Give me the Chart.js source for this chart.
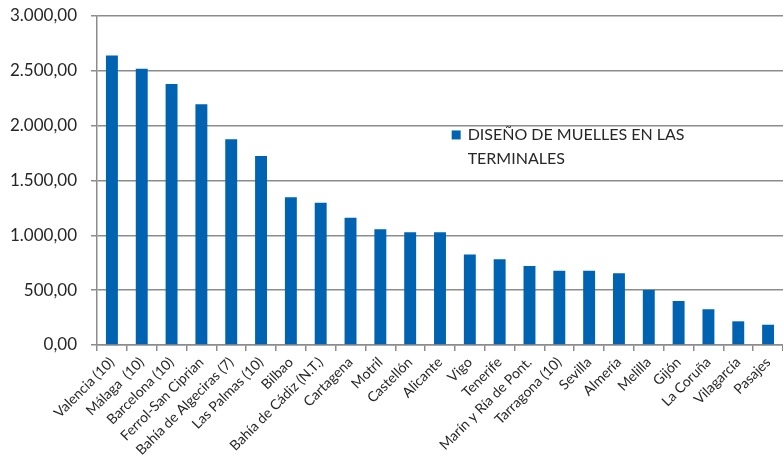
<!DOCTYPE html>
<html>
<head>
<meta charset="utf-8">
<script src="https://cdn.jsdelivr.net/npm/chart.js@4"></script>
<style>
  html, body { margin: 0; padding: 0; background: #fff; }
  #wrap { width: 783px; height: 476px; }
</style>
</head>
<body>
<div id="wrap"><canvas id="chart"></canvas></div>
<script>
// data
const ports = ['Valencia (10)', 'Málaga  (10)', 'Barcelona (10)', 'Ferrol-San Ciprian', 'Bahía de Algeciras (7)',
  'Las Palmas (10)', 'Bilbao', 'Bahía de Cádiz (N.T.)', 'Cartagena', 'Motril', 'Castellón', 'Alicante', 'Vigo',
  'Tenerife', 'Marín y Ría de Pont.', 'Tarragona (10)', 'Sevilla', 'Almería', 'Melilla', 'Gijón', 'La Coruña',
  'Vilagarcía', 'Pasajes'];
const muelles = [2640, 2520, 2380, 2195, 1877, 1724, 1348, 1298, 1160, 1055, 1027, 1027, 825,
  782, 721, 676, 676, 655, 502, 401, 326, 216, 185];
const seriesName = ['DISEÑO DE MUELLES EN LAS', 'TERMINALES'];
const yMax = 3000;
const yStep = 500;

const barColor = '#0063b1';
const gridColor = '#8c8c8c';
const textColor = '#262626';

function fmt(v) {
  const parts = v.toFixed(2).split('.');
  const ent = parts[0].replace(/\B(?=(\d{3})+(?!\d))/g, '.');
  return ent + ',' + parts[1];
}

// legend drawn inside the plot, two lines like the original
const insideLegend = {
  id: 'insideLegend',
  afterDraw(chart) {
    const ctx = chart.ctx;
    const a = chart.chartArea;
    const x = a.left + (a.right - a.left) * 0.517;
    const y = a.top + (a.bottom - a.top) * 0.36;
    ctx.save();
    ctx.fillStyle = '#ffffff';
    ctx.fillRect(x - 4, y - 7, 250, 40);
    ctx.fillStyle = barColor;
    ctx.fillRect(x, y - 4, 9, 9);
    ctx.fillStyle = textColor;
    ctx.font = '16px Lato';
    ctx.textBaseline = 'middle';
    ctx.fillText(seriesName[0], x + 16, y);
    ctx.fillText(seriesName[1], x + 16, y + 24);
    ctx.restore();
  }
};

new Chart(document.getElementById('chart'), {
  type: 'bar',
  data: {
    labels: ports,
    datasets: [{
      label: seriesName.join(' '),
      data: muelles,
      backgroundColor: barColor,
      barPercentage: 0.4,
      categoryPercentage: 1.0
    }]
  },
  options: {
    responsive: true,
    maintainAspectRatio: false,
    animation: false,
    layout: { padding: 0 },
    plugins: {
      legend: { display: false },
      tooltip: { enabled: false }
    },
    scales: {
      x: {
        grid: { display: true, drawOnChartArea: false, offset: true, color: gridColor, tickLength: 6, lineWidth: 1.5 },
        border: { color: gridColor, width: 1.5 },
        ticks: {
          color: textColor,
          font: { family: 'Lato', size: 14 },
          maxRotation: 45,
          minRotation: 45,
          autoSkip: false,
          padding: 3
        },
        afterFit(scale) { scale.height = 131; }
      },
      y: {
        min: 0,
        max: yMax,
        ticks: {
          stepSize: yStep,
          color: textColor,
          font: { family: 'Lato', size: 17 },
          padding: 14,
          callback: (v) => fmt(v)
        },
        grid: { color: gridColor, lineWidth: 1.5, tickLength: 6 },
        border: { color: gridColor, width: 1.5 },
        afterFit(scale) {
          scale.width = 97;
          scale.paddingTop = 16;
        }
      }
    }
  },
  plugins: [insideLegend]
});
</script>
</body>
</html>
